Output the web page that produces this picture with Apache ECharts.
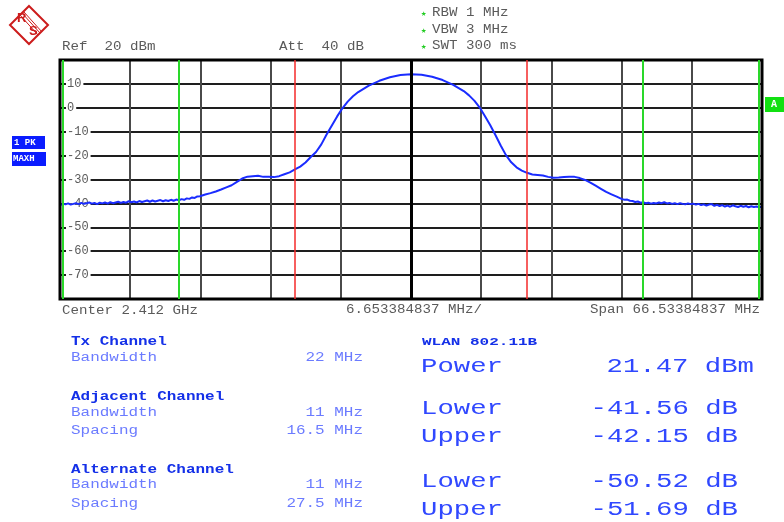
<!DOCTYPE html>
<html>
<head>
<meta charset="utf-8">
<script src="https://cdn.jsdelivr.net/npm/echarts@6/dist/echarts.min.js"></script>
<style>html,body{margin:0;padding:0;background:#fff;}#c{width:784px;height:522px;}</style>
</head>
<body>
<div id="c"></div>
<script>
// ---- data ----
var STEP_MHZ = 6.653384837;            // MHz per division
var yTicks = [20, 10, 0, -10, -20, -30, -40, -50, -60, -70, -80];
var txChannelLines = [-11, 11];        // MHz offset from center (Tx bandwidth 22 MHz)
var adjChannelLines = [-22, 22];       // adjacent channel outer edges
var altChannelLines = [-33, 33];       // alternate channel outer edges
var freqMHz = [-33.2,-33,-32.75,-32.5,-32.25,-32,-31.75,-31.5,-31.25,-31,-30.75,-30.5,-30.25,-30,-29.75,-29.5,-29.25,-29,-28.75,-28.5,-28.25,-28,-27.75,-27.5,-27.25,-27,-26.75,-26.5,-26.25,-26,-25.75,-25.5,-25.25,-25,-24.75,-24.5,-24.25,-24,-23.75,-23.5,-23.25,-23,-22.75,-22.5,-22.25,-22,-21.75,-21.5,-21.25,-21,-20.75,-20.5,-20.25,-20,
  -19.5,-19,-18.5,-18,-17.5,-17,-16.5,-16,-15.5,-15,-14.5,-14,-13.5,-13,-12.5,-12,-11.5,-11,-10.5,-10,-9.5,-9,-8.5,-8,-7.5,-7,-6.5,-6,-5.5,-5,-4,-3,-2,-1,0,1,2,3,4,5,5.5,6,6.5,7,7.5,8,8.5,9,9.5,10,10.5,11,11.5,12,12.5,13,13.5,14,14.5,15,15.5,16,16.5,17,17.5,18,18.5,19,19.5,
  20,20.25,20.5,20.75,21,21.25,21.5,21.75,22,22.25,22.5,22.75,23,23.25,23.5,23.75,24,24.25,24.5,24.75,25,25.25,25.5,25.75,26,26.25,26.5,26.75,27,27.25,27.5,27.75,28,28.25,28.5,28.75,29,29.25,29.5,29.75,30,30.25,30.5,30.75,31,31.25,31.5,31.75,32,32.25,32.5,32.75,33,33.2];
var levelDbm = [-40.6,-40.1,-40.4,-40.0,-40.5,-40.2,-39.9,-40.3,-39.8,-40.2,-39.9,-39.6,-40.1,-39.8,-40.3,-39.7,-40.0,-39.6,-40.1,-39.5,-39.9,-39.6,-39.3,-39.8,-39.4,-39.7,-39.1,-39.5,-39.2,-39.6,-39.0,-39.4,-39.1,-38.8,-39.3,-38.8,-39.2,-38.9,-38.6,-39.1,-38.7,-39.0,-38.5,-38.9,-38.4,-38.7,-38.2,-38.5,-37.9,-38.1,-37.5,-37.7,-37.1,-37.0,
  -36.3,-35.7,-35.0,-34.2,-33.3,-32.4,-31.0,-29.6,-28.8,-28.6,-28.4,-28.9,-28.8,-29.0,-28.6,-27.8,-27.0,-25.8,-24.6,-22.9,-20.6,-18.5,-15.3,-11.2,-7.4,-3.6,-0.2,2.6,4.8,6.6,9.3,11.3,12.8,13.7,14.0,13.8,13.0,11.6,9.6,7.0,5.2,3.0,0.2,-3.4,-7.2,-11.4,-15.8,-19.8,-22.8,-24.9,-26.3,-27.2,-27.9,-28.1,-28.3,-28.9,-29.3,-29.2,-29.0,-28.8,-28.9,-29.4,-30.2,-31.3,-32.6,-33.9,-35.2,-36.2,-37.2,
  -38.2,-38.5,-38.4,-38.9,-39.0,-39.4,-39.2,-39.7,-39.5,-39.9,-39.7,-40.1,-39.8,-40.0,-39.6,-39.9,-39.5,-40.0,-39.8,-40.2,-39.9,-40.3,-39.9,-40.2,-40.4,-40.0,-40.3,-40.1,-40.5,-40.2,-40.7,-40.4,-40.9,-40.5,-40.3,-41.0,-40.6,-41.1,-40.7,-41.3,-40.9,-41.4,-40.8,-41.2,-41.5,-41.0,-41.4,-41.1,-41.6,-41.2,-41.5,-41.3,-41.6,-41.4];

var trace = freqMHz.map(function (f, i) { return [f, levelDbm[i]]; });

var MONO = '"Liberation Mono","DejaVu Sans Mono",monospace';
var GREY = '#5a5a5a';
function txt(x, y, s, size, color, opts) {
  opts = opts || {};
  return {
    type: 'text', x: x, y: y, scaleX: opts.sx || 1.18, z: 10,
    style: {
      text: s, fill: color,
      font: (opts.bold ? 'bold ' : '') + size + 'px ' + MONO,
      textAlign: opts.align || 'left', textVerticalAlign: 'middle'
    }
  };
}
var LB = '#6b7bff', DB = '#1430e8', BB = '#3048ff', RED = '#cc1c1c';

var graphics = [
  // R&S logo
  { type: 'polygon', shape: { points: [[29, 6], [48, 25], [29, 44], [10, 25]] },
    style: { fill: '#fff', stroke: RED, lineWidth: 2 } },
  { type: 'line', shape: { x1: 22, y1: 13, x2: 40, y2: 33 }, style: { stroke: RED, lineWidth: 1 } },
  { type: 'line', shape: { x1: 24, y1: 12, x2: 42, y2: 32 }, style: { stroke: RED, lineWidth: 1 } },
  { type: 'line', shape: { x1: 20, y1: 15, x2: 38, y2: 35 }, style: { stroke: RED, lineWidth: 1 } },
  { type: 'text', x: 17, y: 12, style: { text: 'R', fill: RED, font: 'bold 13px "Liberation Sans",sans-serif' } },
  { type: 'text', x: 29, y: 25, style: { text: 'S', fill: RED, font: 'bold 13px "Liberation Sans",sans-serif' } },

  txt(62, 47, 'Ref  20 dBm', 12, GREY),
  txt(279, 47, 'Att  40 dB', 12, GREY),
  txt(421, 14, '\u2605', 9, '#22cc22', { sx: 1 }),
  txt(421, 31, '\u2605', 9, '#22cc22', { sx: 1 }),
  txt(421, 47, '\u2605', 9, '#22cc22', { sx: 1 }),
  txt(432, 13, 'RBW 1 MHz', 12, GREY),
  txt(432, 30, 'VBW 3 MHz', 12, GREY),
  txt(432, 46, 'SWT 300 ms', 12, GREY),

  txt(62, 311, 'Center 2.412 GHz', 12, GREY),
  txt(346, 310, '6.653384837 MHz/', 12, GREY),
  txt(760, 310, 'Span 66.53384837 MHz', 12, GREY, { align: 'right' }),

  // trace indicators
  { type: 'rect', shape: { x: 12, y: 136, width: 33, height: 13 }, style: { fill: '#0a1cff' } },
  { type: 'text', x: 14, y: 142.5, style: { text: '1 PK', fill: '#fff', font: 'bold 9px ' + MONO, textVerticalAlign: 'middle' } },
  { type: 'rect', shape: { x: 12, y: 152, width: 34, height: 14 }, style: { fill: '#0a1cff' } },
  { type: 'text', x: 13, y: 159, style: { text: 'MAXH', fill: '#fff', font: 'bold 9px ' + MONO, textVerticalAlign: 'middle' } },
  { type: 'rect', shape: { x: 765, y: 97, width: 19, height: 15 }, style: { fill: '#11e011' } },
  { type: 'text', x: 771, y: 104.5, style: { text: 'A', fill: '#fff', font: 'bold 10px ' + MONO, textVerticalAlign: 'middle' } },

  // channel settings
  txt(71, 342, 'Tx Channel', 12, DB, { bold: true, sx: 1.33 }),
  txt(71, 358, 'Bandwidth', 12, LB, { sx: 1.33 }),
  txt(363, 358, '22 MHz', 12, LB, { sx: 1.33, align: 'right' }),
  txt(71, 397, 'Adjacent Channel', 12, DB, { bold: true, sx: 1.33 }),
  txt(71, 413, 'Bandwidth', 12, LB, { sx: 1.33 }),
  txt(363, 413, '11 MHz', 12, LB, { sx: 1.33, align: 'right' }),
  txt(71, 431, 'Spacing', 12, LB, { sx: 1.33 }),
  txt(363, 431, '16.5 MHz', 12, LB, { sx: 1.33, align: 'right' }),
  txt(71, 470, 'Alternate Channel', 12, DB, { bold: true, sx: 1.33 }),
  txt(71, 485, 'Bandwidth', 12, LB, { sx: 1.33 }),
  txt(363, 485, '11 MHz', 12, LB, { sx: 1.33, align: 'right' }),
  txt(71, 504, 'Spacing', 12, LB, { sx: 1.33 }),
  txt(363, 504, '27.5 MHz', 12, LB, { sx: 1.33, align: 'right' }),

  // results
  txt(422, 342, 'WLAN 802.11B', 10, DB, { bold: true, sx: 1.6 }),
  txt(421, 366, 'Power', 21, BB, { sx: 1.3 }),
  txt(754, 366, '21.47 dBm', 21, BB, { sx: 1.3, align: 'right' }),
  txt(421, 408, 'Lower', 21, BB, { sx: 1.3 }),
  txt(738, 408, '-41.56 dB', 21, BB, { sx: 1.3, align: 'right' }),
  txt(421, 436, 'Upper', 21, BB, { sx: 1.3 }),
  txt(738, 436, '-42.15 dB', 21, BB, { sx: 1.3, align: 'right' }),
  txt(421, 481, 'Lower', 21, BB, { sx: 1.3 }),
  txt(738, 481, '-50.52 dB', 21, BB, { sx: 1.3, align: 'right' }),
  txt(421, 509, 'Upper', 21, BB, { sx: 1.3 }),
  txt(738, 509, '-51.69 dB', 21, BB, { sx: 1.3, align: 'right' })
];

function vLines(arr, color, width) {
  return arr.map(function (v) { return { xAxis: v, lineStyle: { color: color, width: width, type: 'solid' } }; });
}

var chart = echarts.init(document.getElementById('c'), null, { renderer: 'canvas' });
chart.setOption({
  animation: false,
  backgroundColor: '#fff',
  grid: { left: 60, right: 22, top: 60, bottom: 223, show: true, borderColor: '#000', borderWidth: 3, backgroundColor: 'transparent', z: 5 },
  xAxis: {
    type: 'value', min: -5 * STEP_MHZ, max: 5 * STEP_MHZ, interval: STEP_MHZ,
    axisLine: { show: false }, axisTick: { show: false }, axisLabel: { show: false },
    splitLine: { show: true, lineStyle: { color: '#4a4a4a', width: 2 } }
  },
  yAxis: {
    type: 'value', min: yTicks[yTicks.length - 1], max: yTicks[0], interval: 10,
    axisLine: { show: false }, axisTick: { show: false },
    splitLine: { show: true, lineStyle: { color: '#1e1e1e', width: 2 } },
    axisLabel: {
      inside: true, margin: 6, color: GREY, fontFamily: MONO, fontSize: 12,
      backgroundColor: '#fff', padding: [0, 2, 0, 1],
      formatter: function (v) { return (v === yTicks[0] || v === yTicks[yTicks.length - 1]) ? '' : String(v); }
    }
  },
  graphic: graphics,
  series: [
    {
      type: 'line', data: [], silent: true, z: 3,
      markLine: {
        silent: true, symbol: 'none', label: { show: false },
        data: [{ xAxis: 0, lineStyle: { color: '#000', width: 3, type: 'solid' } }]
          .concat(vLines(txChannelLines, '#f52a2a', 1.5))
          .concat(vLines(adjChannelLines, '#2ad82a', 2))
          .concat(vLines(altChannelLines, '#2ad82a', 2))
      }
    },
    {
      type: 'line', data: trace, showSymbol: false, symbol: 'none', z: 4,
      lineStyle: { color: '#1a2cff', width: 2 }
    }
  ]
});
</script>
</body>
</html>
